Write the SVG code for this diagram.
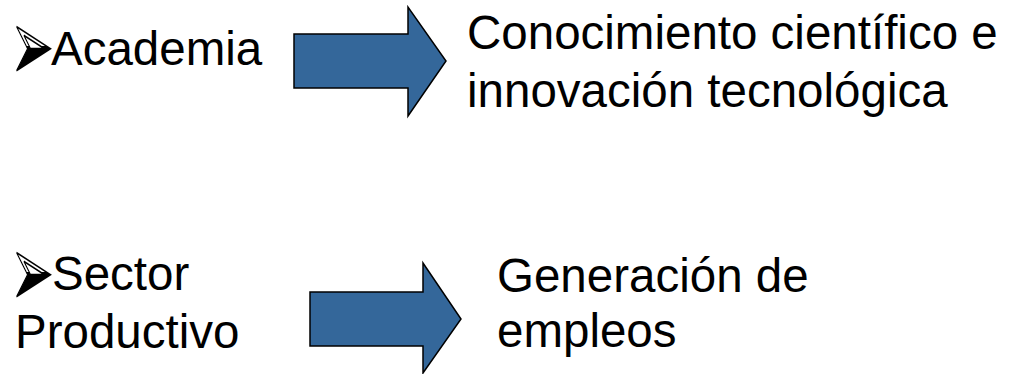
<svg xmlns="http://www.w3.org/2000/svg" width="1020" height="374" viewBox="0 0 1020 374">
<defs>
<linearGradient id="bulletFill" gradientUnits="userSpaceOnUse" x1="0" y1="-40" x2="0" y2="0">
<stop offset="0.58" stop-color="#fff"/>
<stop offset="0.58" stop-color="#000"/>
</linearGradient>
</defs>
<style>
.t{font-family:"Liberation Sans",Arial,sans-serif;font-size:47.5px;fill:#000}
.b{font-family:"DejaVu Sans",sans-serif;font-size:50px;fill:url(#bulletFill);stroke:#000;stroke-width:0.9}
.arr{fill:#34679A;stroke:#000;stroke-width:1.5;stroke-linejoin:miter}
</style>
<rect width="1020" height="374" fill="#fff"/>
<g id="academia">
<text class="b" transform="translate(11,80) scale(1,2)">➢</text>
<text class="t" x="51" y="65">Academia</text>
</g>
<g id="conocimiento">
<text class="t" x="467" y="49">Conocimiento científico e</text>
<text class="t" x="467" y="107">innovación tecnológica</text>
</g>
<g id="sector">
<text class="b" transform="translate(11,306) scale(1,2)">➢</text>
<text class="t" x="52" y="290">Sector</text>
<text class="t" x="15" y="348">Productivo</text>
</g>
<g id="generacion">
<text class="t" x="497" y="292">Generación de</text>
<text class="t" x="497" y="347">empleos</text>
</g>
<g id="connectors">
<polygon class="arr" points="294,34 408,34 408,7 446,61 408,116 408,88 294,88"/>
<polygon class="arr" points="310,292 423,292 423,263 461,319 423,373 423,346 310,346"/>
</g>
</svg>
